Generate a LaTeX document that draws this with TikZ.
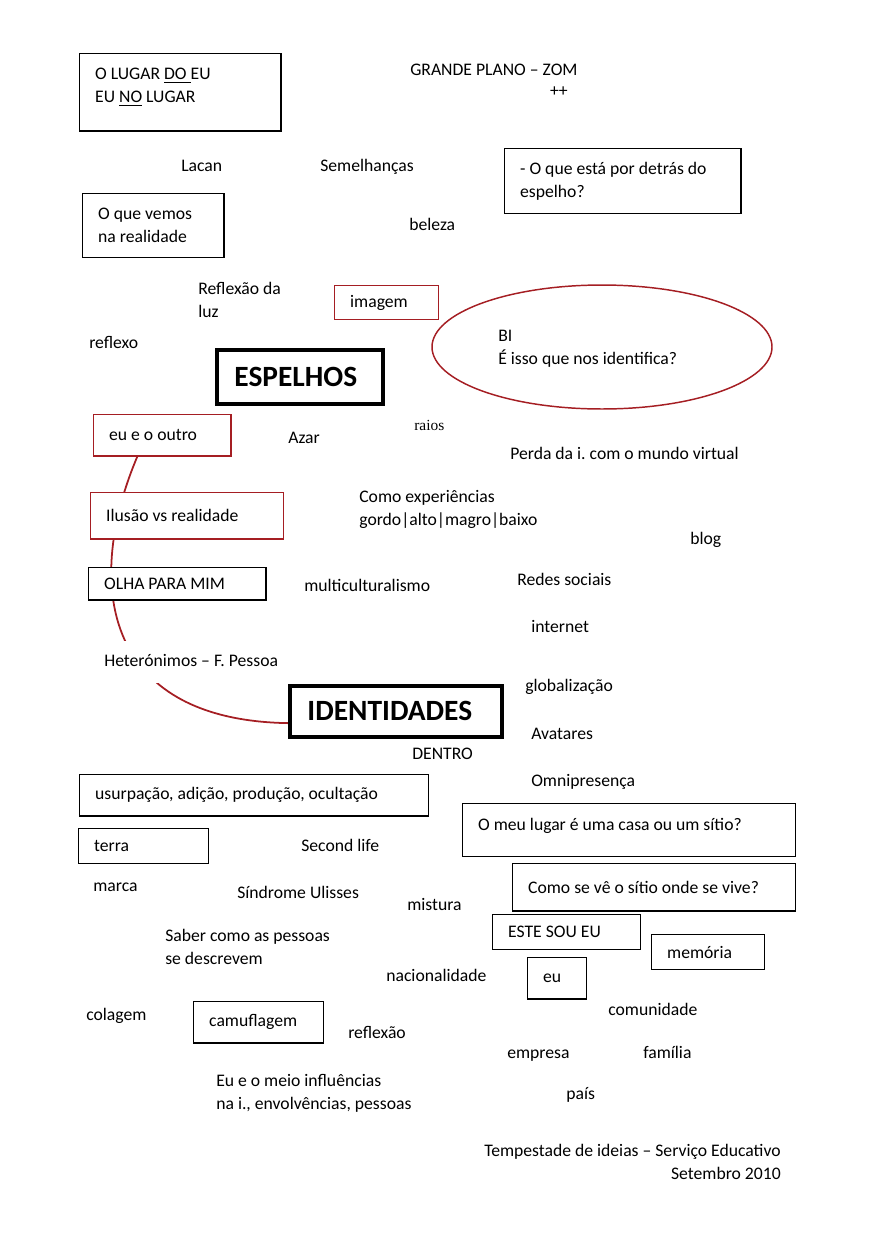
\documentclass[tikz,border=0pt]{standalone}
\usepackage{fontspec}
\setmainfont{Carlito}
\newfontfamily\serifraios{Liberation Serif}
\usepackage{xcolor}
\usepackage{tikz}
\usetikzlibrary{shapes.geometric,backgrounds,calc}
\definecolor{mapred}{RGB}{165,30,35}
\frenchspacing

\begin{document}
\begin{tikzpicture}[x=0.68pt,y=-0.68pt,font=\fontsize{12}{15.6}\selectfont,
   tx/.style={anchor=west,inner sep=0pt,text height=8.5pt,text depth=2.6pt},
   txx/.style={anchor=west,inner sep=0pt,align=flush left},
   bx/.style={draw,fill=white,line width=1pt,anchor=north west,align=flush left,inner xsep=10.5pt,inner ysep=0pt},
   rbx/.style={bx,draw=mapred},
   big/.style={bx,line width=2.5pt,inner xsep=12pt,font=\fontsize{20}{24}\selectfont\bfseries}]
  \useasboundingbox (0,0) rectangle (875,1241);

  % top part
  \node[bx,minimum height=52.4pt,text width=115.7pt] (lugar) at (79,53) {O LUGAR \underline{DO }EU\\EU \underline{NO} LUGAR\rule[-9pt]{0pt}{0pt}};
  \node[tx] (zom) at (410,71) {GRANDE PLANO -- ZOM};
  \node[anchor=east,inner sep=0pt] (plus) at (568,92) {++};
  \node[tx] (lacan) at (181,167) {Lacan};
  \node[tx] (semel) at (320,167) {Semelhanças};
  \node[bx,minimum height=44.2pt,text width=139.5pt] (detras) at (504,148) {- O que está por detrás do\\espelho?};
  \node[bx,minimum height=43.5pt,text width=74.9pt] (vemos) at (82,193) {O que vemos\\na realidade};
  \node[tx] (beleza) at (409,226) {beleza};
  \node[txx] (reflluz) at (198,300) {Reflexão da\\luz};
  \node[rbx,minimum height=23.1pt,text width=49.7pt] (imagem) at (334,285) {imagem};
  \node[draw=mapred,ellipse,line width=1pt,fill=white,
        minimum width=231.2pt,minimum height=84.3pt] (bi) at (602,347) {};
  \node[txx] (bitext) at (498,349) {BI\\É isso que nos identifica?};
  \node[tx] (reflexo) at (89,344) {reflexo};
  \node[big,minimum height=36.7pt,text width=88.9pt] (espelhos) at (215,348) {ESPELHOS};
  \node[tx,font=\serifraios\fontsize{10.5}{12}\selectfont] (raios) at (414,426) {raios};

  % middle part
  \node[rbx,minimum height=27.9pt,text width=72.2pt] (outro) at (93,414) {eu e o outro};
  \node[tx] (azar) at (288,439) {Azar};
  \node[tx] (perda) at (510,455) {Perda da i. com o mundo virtual};
  \node[txx] (exper) at (359,509.5) {Como experiências\\gordo|alto|magro|baixo};
  \node[rbx,minimum height=31.3pt,text width=110.2pt] (ilusao) at (90,492) {Ilusão vs realidade};
  \node[tx] (blog) at (690,540) {blog};
  \node[bx,minimum height=21.8pt,text width=99.4pt] (olha) at (88,567) {OLHA PARA MIM};
  \node[tx] (multi) at (304,587) {multiculturalismo};
  \node[tx] (redes) at (517,581) {Redes sociais};
  \node[tx] (internet) at (531,628) {internet};
  \node[tx,fill=white,inner ysep=9pt] (hetero) at (104,662) {Heterónimos -- F. Pessoa};
  \node[tx] (global) at (525,687) {globalização};
  \node[big,minimum height=34.7pt,text width=120.2pt] (ident) at (288,684) {IDENTIDADES};
  \node[tx] (avatar) at (531,735) {Avatares};
  \node[tx] (dentro) at (412,755) {DENTRO};
  \node[tx] (omni) at (531,782) {Omnipresença};

  % bottom part
  \node[bx,minimum height=27.9pt,text width=216.3pt] (usurp) at (79,774) {usurpação, adição, produção, ocultação};
  \node[bx,minimum height=36pt,text width=205.4pt] (casa) at (462,803) {O meu lugar é uma casa ou um sítio?\rule[-8pt]{0pt}{0pt}};
  \node[bx,minimum height=23.8pt,text width=67.4pt] (terra) at (78,828) {terra};
  \node[tx] (second) at (301,847) {Second life};
  \node[bx,minimum height=32pt,text width=171.4pt] (sitio) at (512,863) {Como se vê o sítio onde se vive?};
  \node[tx] (marca) at (93,887) {marca};
  \node[tx] (ulisses) at (237,894) {Síndrome Ulisses};
  \node[tx] (mistura) at (407,906) {mistura};
  \node[bx,minimum height=23.8pt,text width=79.6pt] (este) at (492,914) {ESTE SOU EU};
  \node[bx,minimum height=23.8pt,text width=55.8pt] (memoria) at (651,934) {memória};
  \node[txx] (saber) at (165,946.5) {Saber como as pessoas\\se descrevem};
  \node[tx] (nacion) at (386,977) {nacionalidade};
  \node[bx,minimum height=27.9pt,text width=19.1pt] (eu) at (527,957) {eu};
  \node[tx] (comun) at (608,1011) {comunidade};
  \node[tx] (colagem) at (86,1016) {colagem};
  \node[bx,minimum height=27.9pt,text width=67.4pt] (camufl) at (193,1001) {camuflagem};
  \node[tx] (reflexao) at (348,1034) {reflexão};
  \node[tx] (empresa) at (507,1054) {empresa};
  \node[tx] (familia) at (643,1054) {família};
  \node[txx] (meio) at (216,1093.5) {Eu e o meio influências\\na i., envolvências, pessoas};
  \node[tx] (pais) at (566,1095) {país};
  \node[anchor=east,inner sep=0pt,align=flush right] (tempest) at (781,1161.5) {Tempestade de ideias -- Serviço Educativo\\Setembro 2010};

  % red line behind the boxes
  \begin{scope}[on background layer]
    \draw[mapred,line width=1.2pt] ($(outro.south west)!0.32!(outro.south east)$)
      .. controls (85,580) and (100,720) .. ([yshift=-8pt]ident.west);
  \end{scope}
\end{tikzpicture}
\end{document}
